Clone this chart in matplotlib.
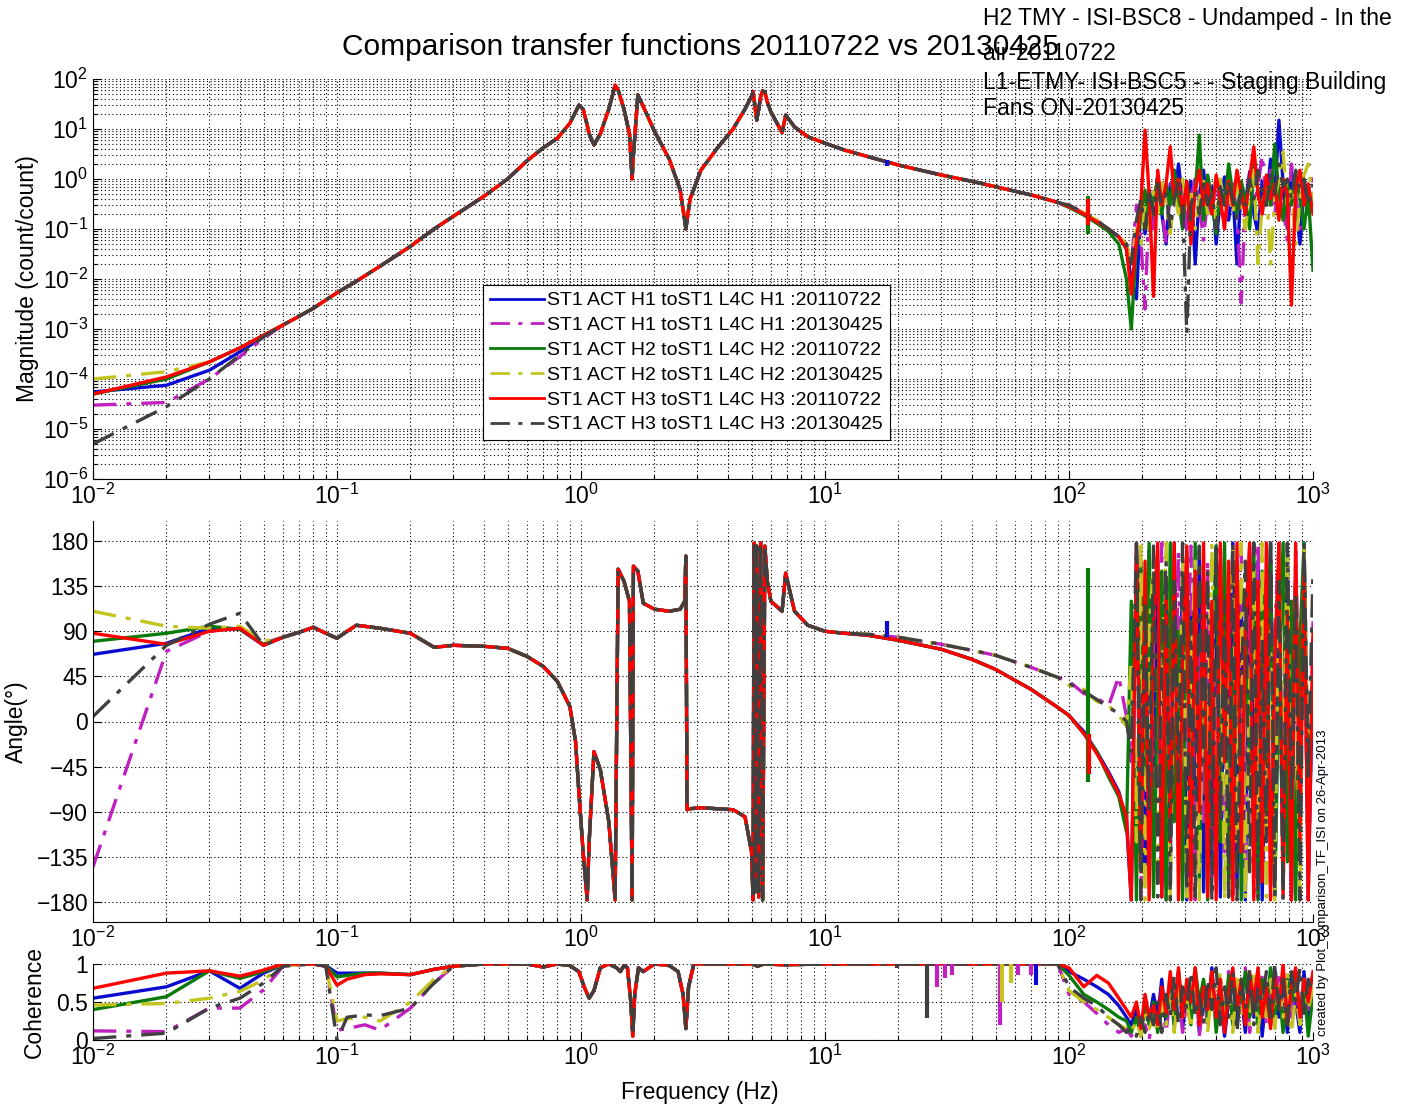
import numpy as np
import matplotlib
matplotlib.use("Agg")
import matplotlib.pyplot as plt
from matplotlib.ticker import LogLocator, LogFormatterSciNotation, NullFormatter, FixedLocator

plt.rcParams['font.family'] = ['Liberation Sans', 'DejaVu Sans']
plt.rcParams['mathtext.fontset'] = 'custom'
plt.rcParams['mathtext.rm'] = 'Liberation Sans'
plt.rcParams['mathtext.default'] = 'regular'

# ---------------- data ----------------
series = ['H1_2011', 'H1_2013', 'H2_2011', 'H2_2013', 'H3_2011', 'H3_2013']
labels = ['ST1 ACT H1 toST1 L4C H1 :20110722',
          'ST1 ACT H1 toST1 L4C H1 :20130425',
          'ST1 ACT H2 toST1 L4C H2 :20110722',
          'ST1 ACT H2 toST1 L4C H2 :20130425',
          'ST1 ACT H3 toST1 L4C H3 :20110722',
          'ST1 ACT H3 toST1 L4C H3 :20130425']

freq_low = [0.01, 0.02, 0.03, 0.04, 0.05]
freq_mid = [0.06, 0.07, 0.08, 0.09, 0.1, 0.11, 0.12, 0.15, 0.2, 0.25,
            0.3, 0.4, 0.5, 0.6, 0.7, 0.8, 0.9, 0.95, 0.98, 1.02,
            1.06, 1.08, 1.13, 1.2, 1.3, 1.38, 1.42, 1.5, 1.58, 1.62,
            1.64, 1.71, 1.8, 2.0, 2.3, 2.55, 2.66, 2.69, 2.72, 2.8,
            3.1, 3.6, 4.2, 4.7, 5.0, 5.07, 5.12, 5.18, 5.25, 5.35,
            5.45, 5.55, 5.67, 5.8, 6.0, 6.67, 6.9, 7.5, 8.5, 10,
            12, 15, 20, 30, 40, 50, 70, 90]
hf_freq = [100, 115, 130, 145, 160, 172,
           180, 189, 197, 205, 213, 222, 231, 240, 250,
           260, 270, 281, 292, 304, 316, 329, 342, 356, 370,
           385, 401, 417, 434, 451, 469, 488, 508, 528, 550,
           572, 595, 619, 644, 670, 697, 725, 754, 785, 816,
           849, 884, 919, 956, 1000]

# magnitude
mag_low = {
    'H1_2011': [5.5e-5, 7.5e-5, 1.5e-4, 3.5e-4, 7e-4],
    'H1_2013': [3e-5, 3.4e-5, 1.0e-4, 2.8e-4, 6.5e-4],
    'H2_2011': [5e-5, 1.0e-4, 2.2e-4, 4.2e-4, 7.5e-4],
    'H2_2013': [1.0e-4, 1.4e-4, 2.2e-4, 4.2e-4, 7.5e-4],
    'H3_2011': [5e-5, 1.1e-4, 2.2e-4, 4.2e-4, 7.5e-4],
    'H3_2013': [5e-6, 2.8e-5, 1.0e-4, 3.0e-4, 7e-4],
}
mag_mid = [1.2e-3, 1.8e-3, 2.6e-3, 3.8e-3, 5.3e-3, 7e-3, 9e-3, 1.8e-2, 4.5e-2, 0.1,
           0.18, 0.45, 1.0, 2.3, 4.2, 6.5, 13, 22, 30, 25,
           12, 8, 4.8, 8, 25, 75, 60, 25, 8, 1.0,
           3, 48, 28, 9, 2.5, 0.6, 0.15, 0.1, 0.15, 0.4,
           1.5, 4, 10, 25, 45, 55, 40, 25, 15, 25,
           45, 58, 55, 35, 22, 8.5, 19, 11, 7, 5.2,
           3.8, 2.8, 1.9, 1.2, 0.9, 0.7, 0.48, 0.34]
mag_hf = {
    'H1_2011': [0.28, 0.2, 0.14, 0.1, 0.07, 0.04,
                0.01, 0.004, 0.3, 0.08, 0.6, 0.15, 1.2, 0.2, 0.05,
                0.8, 0.3, 2.0, 0.4, 0.1, 0.9, 0.02, 0.5, 1.5, 0.2,
                0.7, 0.05, 0.4, 1.1, 0.15, 0.6, 0.02, 0.8, 0.3, 1.4,
                0.2, 0.08, 0.9, 0.3, 2.5, 0.4, 15, 0.8, 0.1, 1.5,
                0.3, 0.05, 0.7, 0.2, 0.4],
    'H1_2013': [0.3, 0.21, 0.15, 0.1, 0.07, 0.05,
                0.02, 0.3, 0.06, 0.0025, 0.4, 0.1, 0.9, 0.3, 0.05,
                0.6, 1.5, 0.2, 0.7, 0.1, 0.4, 1.0, 0.3, 0.06, 0.5,
                0.2, 0.9, 0.3, 0.1, 0.5, 0.8, 0.2, 0.0033, 0.4, 1.2,
                0.3, 0.7, 3.0, 0.4, 1.5, 0.2, 0.8, 0.3, 0.06, 2.0,
                0.5, 0.1, 0.9, 0.3, 1.5],
    'H2_2011': [0.27, 0.19, 0.13, 0.09, 0.05, 0.01,
                0.001, 0.05, 0.2, 0.6, 0.1, 0.4, 1.0, 0.2, 0.8,
                0.3, 1.5, 0.4, 0.1, 0.9, 0.2, 0.5, 7.5, 0.15, 1.2,
                0.4, 0.08, 0.7, 0.3, 2.0, 0.5, 0.2, 0.9, 0.4, 0.1,
                2.5, 0.6, 0.2, 1.0, 0.3, 5.0, 0.5, 0.15, 0.8, 0.3,
                1.2, 0.4, 0.1, 0.5, 0.015],
    'H2_2013': [0.3, 0.21, 0.15, 0.1, 0.07, 0.05,
                0.02, 0.1, 0.05, 0.3, 0.1, 0.6, 0.2, 0.9, 0.3,
                0.08, 0.5, 0.2, 1.0, 0.3, 0.6, 0.1, 0.4, 0.9, 0.2,
                0.5, 0.15, 1.0, 0.3, 0.6, 0.2, 0.8, 0.3, 0.1, 0.5,
                1.5, 0.02, 0.3, 0.8, 0.02, 0.4, 1.0, 3.5, 0.3, 0.7,
                0.05, 0.4, 1.2, 2.0, 0.3],
    'H3_2011': [0.28, 0.2, 0.14, 0.1, 0.07, 0.04,
                0.005, 0.06, 0.3, 9.5, 0.5, 0.0045, 1.5, 0.3, 0.8,
                4.4, 0.4, 1.0, 0.2, 0.9, 0.05, 0.6, 1.5, 0.3, 0.8,
                0.2, 1.2, 0.4, 0.1, 0.9, 0.3, 1.5, 0.5, 0.2, 1.0,
                4.4, 0.5, 0.2, 1.2, 0.4, 0.8, 0.15, 1.0, 0.5, 0.003,
                0.6, 1.5, 0.3, 0.8, 0.2],
    'H3_2013': [0.3, 0.21, 0.15, 0.1, 0.07, 0.05,
                0.02, 0.15, 0.4, 0.1, 0.6, 0.2, 0.8, 0.3, 0.5,
                0.1, 0.4, 0.9, 0.3, 0.0008, 0.3, 0.6, 0.2, 0.8, 0.3,
                0.5, 0.1, 0.7, 0.3, 0.9, 0.4, 0.15, 0.6, 0.3, 1.0,
                0.4, 1.5, 0.6, 0.3, 1.2, 0.5, 2.0, 0.7, 1.0, 0.4,
                1.5, 0.6, 1.0, 0.3, 0.8],
}

# phase (deg)
phase_low = {
    'H1_2011': [67, 78, 93, 92, 76],
    'H1_2013': [-145, 70, 90, 93, 78],
    'H2_2011': [80, 88, 95, 92, 77],
    'H2_2013': [110, 95, 93, 95, 80],
    'H3_2011': [88, 77, 90, 93, 76],
    'H3_2013': [5, 76, 97, 108, 76],
}
phase_mid = [84, 89, 94, 88, 83, 90, 96, 93, 88, 74,
             76, 75, 73, 65, 55, 40, 15, -20, -70, -130,
             -178, -120, -30, -48, -100, -178, 152, 140, 120, -178,
             155, 150, 118, 112, 110, 112, 120, 165, -88, -87,
             -86, -87, -88, -95, -130, -178, 178, -170, 175, -175,
             178, -178, 175, 140, 120, 110, 148, 110, 96, 90]
# 12..90 Hz, the two measurement dates part ways
phase_tail_2011 = [88, 86, 81, 72, 62, 52, 32, 14]
phase_tail_2013 = [88, 87, 84, 77, 71, 66, 54, 44]
phase_hf = {
    'H1_2011': [6, -10, -30, -50, -70, -100,
                -178, 175, 40, -160, 170, -120, 160, -175, 90,
                -150, 178, -60, 150, -178, 120, -90, 170, -170, 60,
                -140, 175, -175, 100, -30, 178, -165, 140, -178, 175,
                -80, 160, -178, 30, 178, -175, 120, -150, 176, -178,
                150, -100, 178, -170, 60],
    'H1_2013': [40, 28, 24, 15, 45, 5,
                -40, 150, -175, 60, 170, -120, 20, 178, -178,
                100, -60, 170, -150, 40, 175, -178, 80, -100, 160,
                -170, 20, 178, -130, 150, -178, 60, 170, -160, 110,
                -178, 178, -40, 140, -175, 90, 178, -120, 60, -178,
                170, -20, 150, -178, 100],
    'H2_2011': [6, -12, -30, -55, -75, -110,
                120, -178, 160, -60, 178, -175, 40, 150, -178,
                178, -100, 90, -178, 170, -40, 178, -160, 120, -178,
                60, 175, -120, 178, -175, 20, 160, -178, 100, -50,
                178, -178, 150, -90, 175, -175, 40, 178, -140, 120,
                -178, 80, 178, -60, 30],
    'H2_2013': [36, 32, 20, 16, 6, -5,
                60, -120, 175, -178, 90, 160, -150, 30, 178,
                -178, 120, -80, 170, -175, 50, 160, -178, 100, -30,
                178, -160, 140, -178, 70, 175, -120, 178, -178, 40,
                150, -100, 178, -175, 90, -178, 170, -60, 178, -150,
                100, -178, 178, -90, 60],
    'H3_2011': [6, -12, -32, -52, -72, -95,
                -178, 178, -150, 160, -178, 100, 178, -175, 140,
                -120, 178, -178, 60, 175, -178, 150, -90, 178, -175,
                120, -178, 178, -40, 160, -178, 178, -130, 90, 178,
                -178, 140, -160, 178, -178, 60, 178, -175, 110, -178,
                178, -120, 160, -178, 90],
    'H3_2013': [38, 30, 22, 14, 8, 0,
                -30, 178, -178, 120, -90, 175, -175, 60, 160,
                -178, 140, -60, 178, -170, 100, -178, 175, -40, 150,
                -178, 178, -100, 120, -175, 178, -178, 30, 160, -150,
                178, -178, 80, -120, 178, -175, 140, -178, 178, -80,
                130, -178, 178, -60, 150],
}

# coherence
coh_freq_low = [0.01, 0.02, 0.03, 0.04, 0.05, 0.06, 0.08, 0.09, 0.1, 0.11, 0.13, 0.15, 0.2, 0.25]
coh_freq_mid = [0.3, 0.4, 0.6, 0.7, 0.8, 0.9, 0.98, 1.03, 1.08, 1.13,
                1.2, 1.3, 1.4, 1.45, 1.5, 1.55, 1.6, 1.63, 1.66, 1.72,
                1.8, 2.0, 2.3, 2.5, 2.62, 2.69, 2.76, 2.9, 3.5, 5.0,
                5.3, 5.6, 6.8, 10, 20, 50, 90]
coh_low = {
    'H1_2011': [0.55, 0.70, 0.91, 0.68, 0.88, 0.99, 1.0, 0.98, 0.88, 0.88, 0.88, 0.88, 0.86, 0.93],
    'H1_2013': [0.12, 0.11, 0.42, 0.42, 0.66, 0.97, 1.0, 0.97, 0.13, 0.15, 0.2, 0.13, 0.42, 0.75],
    'H2_2011': [0.40, 0.57, 0.91, 0.81, 0.90, 0.99, 1.0, 0.98, 0.83, 0.85, 0.88, 0.88, 0.86, 0.93],
    'H2_2013': [0.46, 0.48, 0.55, 0.64, 0.79, 0.98, 1.0, 0.97, 0.25, 0.28, 0.3, 0.25, 0.5, 0.8],
    'H3_2011': [0.68, 0.88, 0.91, 0.84, 0.92, 1.0, 1.0, 0.97, 0.72, 0.8, 0.86, 0.87, 0.86, 0.93],
    'H3_2013': [0.02, 0.09, 0.42, 0.55, 0.75, 0.97, 1.0, 0.97, 0.0, 0.3, 0.33, 0.32, 0.42, 0.75],
}
coh_mid = [0.97, 1.0, 1.0, 0.96, 1.0, 0.98, 0.9, 0.7, 0.55, 0.65,
           0.95, 1.0, 0.95, 0.9, 0.98, 0.95, 0.5, 0.05, 0.6, 0.95,
           0.9, 1.0, 0.98, 0.9, 0.6, 0.15, 0.7, 1.0, 1.0, 1.0,
           0.97, 1.0, 0.99, 1.0, 1.0, 1.0, 1.0]
coh_hf = {
    'H1_2011': [0.9, 0.8, 0.7, 0.6, 0.45, 0.3,
                0.2, 0.4, 0.1, 0.5, 0.25, 0.6, 0.3, 0.8, 0.2,
                0.7, 0.3, 0.9, 0.15, 0.6, 0.4, 0.85, 0.1, 0.5, 0.3,
                0.95, 0.2, 0.7, 0.05, 0.5, 0.9, 0.2, 0.6, 0.1, 0.8,
                0.3, 0.9, 0.05, 0.6, 0.2, 0.95, 0.3, 0.7, 0.1, 0.8,
                0.5, 0.1, 0.9, 0.2, 0.6],
    'H1_2013': [0.6, 0.5, 0.35, 0.2, 0.1, 0.15,
                0.05, 0.3, 0.1, 0.2, 0.0, 0.4, 0.15, 0.5, 0.1,
                0.6, 0.2, 0.8, 0.1, 0.5, 0.3, 0.7, 0.05, 0.6, 0.2,
                0.8, 0.3, 0.6, 0.1, 0.9, 0.2, 0.7, 0.4, 0.95, 0.1,
                0.6, 0.3, 0.85, 0.2, 0.7, 0.4, 0.9, 0.1, 0.6, 0.3,
                0.8, 0.2, 0.7, 0.4, 0.9],
    'H2_2011': [0.85, 0.6, 0.5, 0.4, 0.3, 0.25,
                0.1, 0.3, 0.05, 0.45, 0.2, 0.5, 0.1, 0.4, 0.3,
                0.8, 0.2, 0.9, 0.4, 0.7, 0.2, 0.95, 0.5, 0.8, 0.3,
                0.9, 0.1, 0.6, 0.3, 0.85, 0.2, 0.7, 0.5, 0.9, 0.3,
                0.6, 0.2, 0.8, 0.4, 0.95, 0.3, 0.7, 0.1, 0.8, 0.5,
                0.9, 0.3, 0.7, 0.05, 0.6],
    'H2_2013': [0.65, 0.5, 0.4, 0.3, 0.2, 0.15,
                0.1, 0.25, 0.05, 0.35, 0.15, 0.3, 0.1, 0.5, 0.2,
                0.6, 0.1, 0.7, 0.3, 0.5, 0.15, 0.8, 0.2, 0.6, 0.1,
                0.7, 0.3, 0.9, 0.2, 0.6, 0.1, 0.8, 0.3, 0.5, 0.2,
                0.9, 0.1, 0.6, 0.3, 0.8, 0.15, 0.7, 0.3, 0.9, 0.1,
                0.6, 0.2, 0.8, 0.4, 0.7],
    'H3_2011': [0.95, 0.7, 0.85, 0.75, 0.55, 0.4,
                0.3, 0.5, 0.15, 0.6, 0.3, 0.45, 0.2, 0.7, 0.35,
                0.9, 0.4, 0.95, 0.3, 0.8, 0.5, 0.95, 0.2, 0.7, 0.4,
                0.9, 0.3, 0.8, 0.1, 0.6, 0.95, 0.4, 0.8, 0.2, 0.9,
                0.5, 0.95, 0.3, 0.7, 0.15, 0.85, 0.4, 1.0, 0.2, 0.7,
                0.95, 0.3, 0.8, 0.5, 0.9],
    'H3_2013': [0.7, 0.55, 0.45, 0.3, 0.2, 0.1,
                0.15, 0.05, 0.3, 0.1, 0.4, 0.2, 0.5, 0.1, 0.6,
                0.3, 0.85, 0.2, 0.7, 0.4, 0.9, 0.3, 0.6, 0.2, 0.8,
                0.4, 0.95, 0.2, 0.7, 0.3, 0.9, 0.1, 0.8, 0.4, 0.95,
                0.2, 0.7, 0.5, 0.9, 0.3, 1.0, 0.4, 0.8, 0.2, 0.9,
                0.5, 0.95, 0.3, 0.8, 0.6],
}

# single-bin glitches
mag_spike_series = ['H1_2011', 'H2_2011', 'H3_2011']
mag_spike_freq = [18, 120, 120]
mag_spike_lo = [1.8, 0.08, 0.12]
mag_spike_hi = [2.4, 0.45, 0.4]
phase_spike_series = ['H1_2011', 'H2_2011', 'H3_2011']
phase_spike_freq = [18, 120, 121]
phase_spike_lo = [84, -60, -52]
phase_spike_hi = [100, 153, -12]
coh_dip_series = ['H3_2013', 'H3_2013', 'H1_2013', 'H1_2013', 'H1_2013', 'H1_2013',
                  'H2_2013', 'H2_2013', 'H1_2013', 'H1_2013', 'H1_2011']
coh_dip_freq = [19.7, 26.3, 28.7, 31, 33, 52, 53, 58, 62, 70, 73]
coh_dip_depth = [0.95, 0.29, 0.7, 0.82, 0.85, 0.2, 0.5, 0.75, 0.85, 0.85, 0.72]

# ---------------- styling ----------------
colors = {'H1_2011': '#0a0ad0', 'H1_2013': '#c020c0', 'H2_2011': '#0a7a0a',
          'H2_2013': '#c4c41e', 'H3_2011': '#ff0000', 'H3_2013': '#404040'}
dashdot = (0, (7, 3, 1.5, 3))
styles = {s: ('-' if s.endswith('2011') else dashdot) for s in series}
lw = 2.4

W, H = 1414, 1108
fig = plt.figure(figsize=(W / 100, H / 100), dpi=100)
left, width = 93 / W, 1220 / W
ax_mag = fig.add_axes([left, 1 - 479 / H, width, 400 / H])
ax_ph = fig.add_axes([left, 1 - 922 / H, width, 401 / H])
ax_coh = fig.add_axes([left, 1 - 1040 / H, width, 76 / H])

grid_kw = dict(color='k', linestyle=(0, (1, 2.4)), linewidth=0.8)

for s, lab in zip(series, labels):
    f = freq_low + freq_mid + hf_freq
    m = mag_low[s] + mag_mid + mag_hf[s]
    tail = phase_tail_2011 if s.endswith('2011') else phase_tail_2013
    p = phase_low[s] + phase_mid + tail + phase_hf[s]
    fc = coh_freq_low + coh_freq_mid + hf_freq
    c = coh_low[s] + coh_mid + coh_hf[s]
    ax_mag.plot(f, m, color=colors[s], linestyle=styles[s], linewidth=lw, label=lab)
    ax_ph.plot(f, p, color=colors[s], linestyle=styles[s], linewidth=lw)
    ax_coh.plot(fc, c, color=colors[s], linestyle=styles[s], linewidth=lw)

for s, fq, lo, hi in zip(mag_spike_series, mag_spike_freq, mag_spike_lo, mag_spike_hi):
    ax_mag.vlines(fq, lo, hi, color=colors[s], linewidth=lw + 0.6)
for s, fq, lo, hi in zip(phase_spike_series, phase_spike_freq, phase_spike_lo, phase_spike_hi):
    ax_ph.vlines(fq, lo, hi, color=colors[s], linewidth=lw + 0.6)
for s, fq, d in zip(coh_dip_series, coh_dip_freq, coh_dip_depth):
    ax_coh.vlines(fq, d, 1.0, color=colors[s], linewidth=lw + 0.6)

for ax in (ax_mag, ax_ph, ax_coh):
    ax.set_xscale('log')
    ax.set_xlim(0.01, 1000)
    ax.xaxis.set_major_locator(LogLocator(base=10, numticks=10))
    ax.xaxis.set_minor_locator(LogLocator(base=10, subs=np.arange(2, 10), numticks=20))
    ax.xaxis.set_major_formatter(LogFormatterSciNotation())
    ax.xaxis.set_minor_formatter(NullFormatter())
    ax.spines['top'].set_visible(False)
    ax.spines['right'].set_visible(False)
    ax.tick_params(which='both', direction='in', labelsize=16.5, width=0.8)
    ax.tick_params(which='major', length=6)
    ax.tick_params(which='minor', length=3)
    ax.grid(True, which='major', **grid_kw)
    ax.grid(True, which='minor', axis='x', **grid_kw)
    ax.set_axisbelow(True)

ax_mag.set_yscale('log')
ax_mag.set_ylim(1e-6, 1e2)
ax_mag.yaxis.set_major_locator(LogLocator(base=10, numticks=12))
ax_mag.yaxis.set_minor_locator(LogLocator(base=10, subs=np.arange(2, 10), numticks=20))
ax_mag.yaxis.set_major_formatter(LogFormatterSciNotation())
ax_mag.yaxis.set_minor_formatter(NullFormatter())
ax_mag.grid(True, which='minor', axis='y', **grid_kw)
ax_mag.set_ylabel('Magnitude (count/count)', fontsize=16.5)
ax_mag.yaxis.set_label_coords(-0.044, 0.5)

ax_ph.set_ylim(-200, 200)
ax_ph.yaxis.set_major_locator(FixedLocator([-180, -135, -90, -45, 0, 45, 90, 135, 180]))
ax_ph.set_ylabel('Angle(°)', fontsize=16.5)
ax_ph.yaxis.set_label_coords(-0.053, 0.5)

ax_coh.set_ylim(0, 1)
ax_coh.set_yticks([0, 0.5, 1])
ax_coh.set_yticklabels(['0', '0.5', '1'])
ax_coh.set_ylabel('Coherence', fontsize=16.5)
ax_coh.yaxis.set_label_coords(-0.039, 0.5)

leg = ax_mag.legend(loc='upper left', bbox_to_anchor=(483 / W, 1 - 285 / H),
                    bbox_transform=fig.transFigure, fontsize=14, frameon=True,
                    fancybox=False, framealpha=1, edgecolor='k', borderpad=0.35,
                    labelspacing=0.37, handlelength=2.8, handletextpad=0.15,
                    borderaxespad=0)
leg.get_frame().set_linewidth(0.8)
for line in leg.get_lines():
    line.set_linewidth(2.0)

fig.text(700 / W, 1 - 47 / H, 'Comparison transfer functions 20110722 vs 20130425',
         ha='center', va='center', fontsize=21.5)
fig.text(700 / W, 1 - 1092 / H, 'Frequency (Hz)', ha='center', va='center', fontsize=16.5)

# annotation block top right
note_kw = dict(ha='left', va='center', fontsize=16.5)
fig.text(983 / W, 1 - 18 / H, 'H2 TMY - ISI-BSC8 - Undamped - In the', **note_kw)
fig.text(983 / W, 1 - 53 / H, 'air-20110722', **note_kw)
fig.text(983 / W, 1 - 83 / H, 'L1-ETMY- ISI-BSC5 - - Staging Building', **note_kw)
fig.text(983 / W, 1 - 108 / H, 'Fans ON-20130425', **note_kw)

fig.text(1323 / W, 1 - 883 / H, 'created by Plot_comparison_TF_ISI on 26-Apr-2013',
         rotation=90, ha='center', va='center', fontsize=9.5)

fig.savefig('out.png', dpi=100)
